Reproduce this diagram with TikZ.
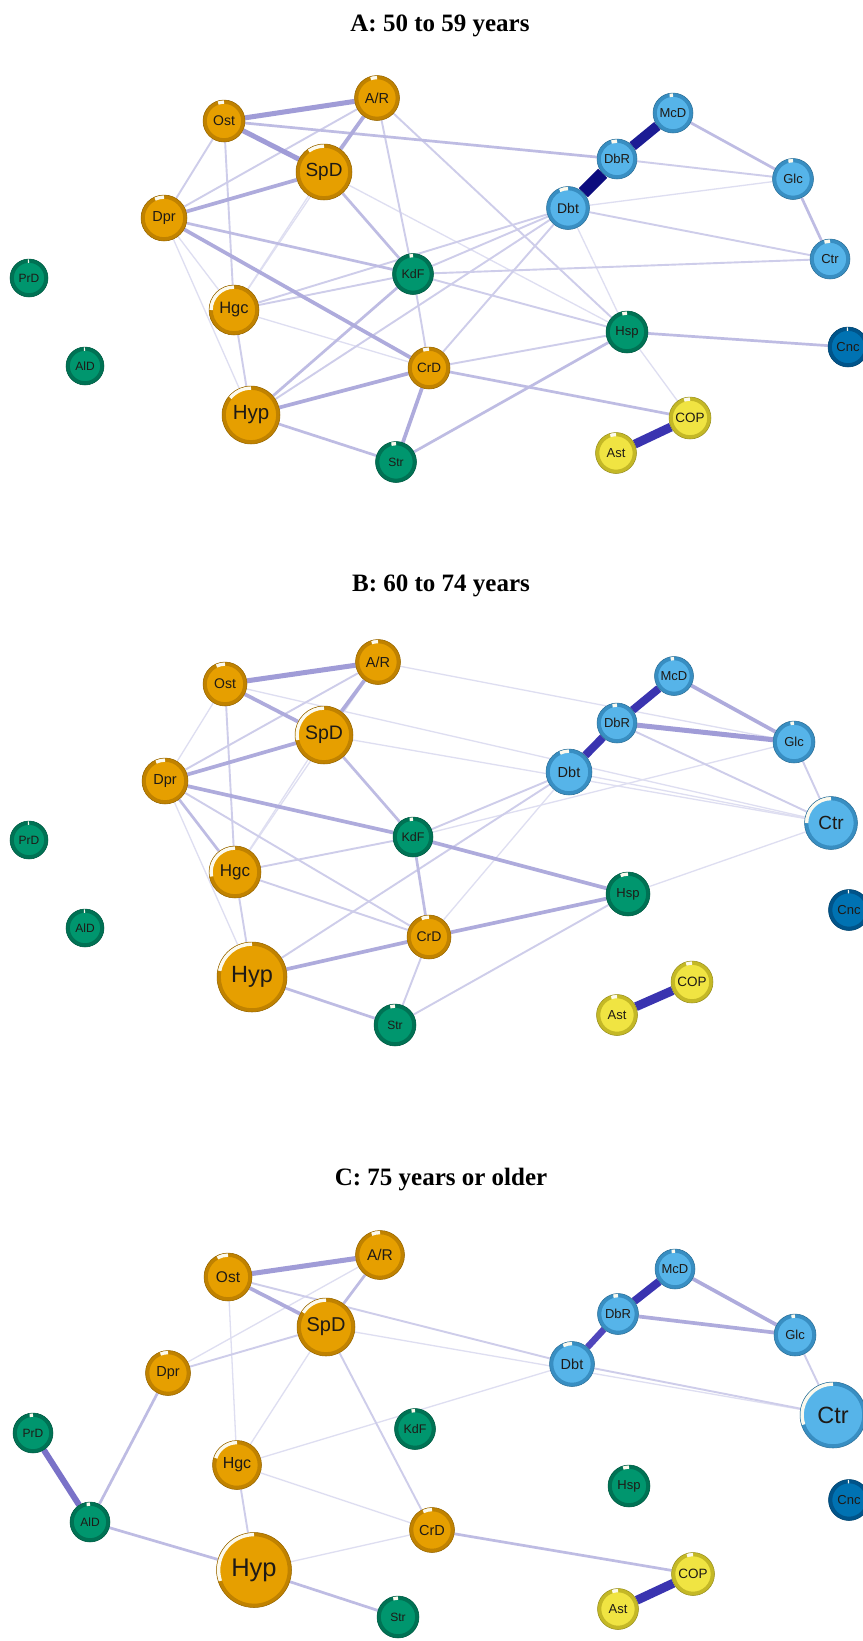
\documentclass[tikz,border=0pt]{standalone}
\usepackage{fontspec}
\setmainfont{Liberation Serif}
\setsansfont{Liberation Sans}
\pgfdeclarelayer{bg}
\pgfsetlayers{bg,main}
\definecolor{orfill}{RGB}{230,159,0}
\definecolor{orring}{RGB}{192,130,0}
\definecolor{grfill}{RGB}{0,150,110}
\definecolor{grring}{RGB}{0,114,84}
\definecolor{lbfill}{RGB}{86,180,233}
\definecolor{lbring}{RGB}{56,142,194}
\definecolor{yefill}{RGB}{240,228,66}
\definecolor{yering}{RGB}{196,184,38}
\definecolor{dbfill}{RGB}{0,114,178}
\definecolor{dbring}{RGB}{0,84,138}
\definecolor{pierest}{RGB}{252,250,238}
\definecolor{labtext}{RGB}{30,26,22}
\definecolor{c1}{RGB}{222,222,241}
\definecolor{c2}{RGB}{206,205,234}
\definecolor{c3}{RGB}{190,188,227}
\definecolor{c4}{RGB}{174,171,220}
\definecolor{c5}{RGB}{160,156,215}
\definecolor{c6}{RGB}{122,114,200}
\definecolor{navyA}{RGB}{12,12,126}
\definecolor{navyB}{RGB}{28,28,148}
\definecolor{navyC}{RGB}{58,52,176}
\definecolor{navyD}{RGB}{80,70,188}
\tikzset{
  nd/.style={circle, inner sep=0pt, text=labtext},
  e1/.style={line width=1.3pt, c1},
  e2/.style={line width=1.9pt, c2},
  e3/.style={line width=2.7pt, c3},
  e4/.style={line width=3.7pt, c4},
  e5/.style={line width=5pt, c5},
  e6/.style={line width=6pt, c6},
  eDbA/.style={line width=13pt, navyA},
  eMcA/.style={line width=10pt, navyB},
  eAst/.style={line width=9pt, navyC},
  eDbB/.style={line width=8pt, navyC},
  eDbC/.style={line width=6.5pt, navyD},
  eMcC/.style={line width=8pt, navyC},
  ttl/.style={font=\bfseries\fontsize{25}{25}\selectfont, anchor=base}
}
\newcommand\NN[8]{%
  \node[nd, minimum size={2*#4pt}, fill=#5fill, font=\sffamily\fontsize{#8}{#8}\selectfont] (#1) at (#2,#3) {#7};
  \pgfmathsetmacro\rr{#4-2.0}%
  \pgfmathsetmacro\ea{90-360*#6}%
  \draw[line width=3.6pt,#5ring] ([shift={(90:\rr pt)}]#1.center) arc[start angle=90,end angle=\ea,radius=\rr pt];
  \draw[line width=3.6pt,pierest] ([shift={(\ea:\rr pt)}]#1.center) arc[start angle=\ea,end angle=-270,radius=\rr pt];
  \draw[line width=0.5pt,#5ring!75!black] (#1.center) circle[radius=#4pt];
}
\newcommand\E[3]{\draw[#1] (#2) -- (#3);}
\begin{document}
\begin{tikzpicture}[x=1pt,y=-1pt]
\useasboundingbox (0,0) rectangle (862,1641);
\begin{pgfonlayer}{bg}
\fill[white] (0,0) rectangle (862,1641);
\end{pgfonlayer}

% ---------- titles
\node[ttl] (tA) at (440,31) {A: 50 to 59 years};
\node[ttl] (tB) at (441,591) {B: 60 to 74 years};
\node[ttl] (tC) at (441,1185) {C: 75 years or older};

% ---------- panel A
\NN{AAR}{377}{98}{22.5}{or}{0.95}{A/R}{14.5}
\NN{AOst}{224}{121}{21}{or}{0.95}{Ost}{14}
\NN{ASpD}{324}{172}{28}{or}{0.9}{SpD}{19}
\NN{AMcD}{673}{113}{20}{lb}{0.97}{McD}{13}
\NN{ADbR}{617}{159}{20}{lb}{0.95}{DbR}{13}
\NN{AGlc}{793}{179}{20.5}{lb}{0.96}{Glc}{13}
\NN{ADbt}{568}{208}{21.5}{lb}{0.93}{Dbt}{14}
\NN{ADpr}{164}{218}{23}{or}{0.93}{Dpr}{14.5}
\NN{ACtr}{830}{259}{20}{lb}{0.95}{Ctr}{13}
\NN{AKdF}{413}{274}{20.5}{gr}{0.97}{KdF}{12.5}
\NN{APrD}{29}{278}{19}{gr}{0.99}{PrD}{12}
\NN{AHgc}{234}{310}{25}{or}{0.75}{Hgc}{16.5}
\NN{AHsp}{627}{332}{21}{gr}{0.96}{Hsp}{13}
\NN{ACnc}{848}{347}{20}{db}{0.99}{Cnc}{13}
\NN{AAlD}{85}{366}{19}{gr}{0.99}{AlD}{12}
\NN{ACrD}{429}{368}{21}{or}{0.95}{CrD}{13.5}
\NN{AHyp}{251}{415}{29}{or}{0.86}{Hyp}{20.5}
\NN{ACOP}{690}{418}{21}{ye}{0.95}{COP}{13.5}
\NN{AAst}{616}{453}{20.5}{ye}{0.95}{Ast}{13}
\NN{AStr}{396}{462}{20.5}{gr}{0.96}{Str}{12}

% ---------- panel B
\begin{scope}[shift={(0,564)}]
\NN{BAR}{378}{98}{22.5}{or}{0.95}{A/R}{14.5}
\NN{BOst}{225}{120}{22}{or}{0.93}{Ost}{14}
\NN{BSpD}{324}{171}{29}{or}{0.72}{SpD}{19.5}
\NN{BMcD}{674}{112}{19.5}{lb}{0.97}{McD}{13}
\NN{BDbR}{617}{159}{20}{lb}{0.96}{DbR}{13}
\NN{BGlc}{794}{178}{21}{lb}{0.97}{Glc}{13}
\NN{BDbt}{569}{208}{23}{lb}{0.93}{Dbt}{14.5}
\NN{BDpr}{165}{217}{23}{or}{0.93}{Dpr}{14.5}
\NN{BCtr}{831}{259}{26.5}{lb}{0.75}{Ctr}{19}
\NN{BKdF}{413}{273}{20}{gr}{0.97}{KdF}{12.5}
\NN{BPrD}{29}{276}{19}{gr}{0.99}{PrD}{12}
\NN{BHgc}{235}{308}{26}{or}{0.72}{Hgc}{17}
\NN{BHsp}{628}{330}{22}{gr}{0.94}{Hsp}{13}
\NN{BCnc}{849}{346}{20.5}{db}{0.99}{Cnc}{13}
\NN{BAlD}{85}{364}{19}{gr}{0.99}{AlD}{12}
\NN{BCrD}{429}{373}{22}{or}{0.94}{CrD}{14}
\NN{BHyp}{252}{413}{35}{or}{0.78}{Hyp}{23.5}
\NN{BCOP}{692}{418}{21}{ye}{0.95}{COP}{13.5}
\NN{BAst}{617}{451}{20.5}{ye}{0.95}{Ast}{13}
\NN{BStr}{395}{461}{21}{gr}{0.96}{Str}{12}
\end{scope}

% ---------- panel C
\begin{scope}[shift={(0,1156)}]
\NN{CAR}{380}{99}{24.5}{or}{0.94}{A/R}{15.5}
\NN{COst}{228}{121}{24}{or}{0.92}{Ost}{15.5}
\NN{CSpD}{326}{171}{29}{or}{0.84}{SpD}{20}
\NN{CMcD}{675}{113}{20}{lb}{0.97}{McD}{13}
\NN{CDbR}{618}{158}{20.5}{lb}{0.96}{DbR}{13}
\NN{CGlc}{795}{179}{21}{lb}{0.97}{Glc}{13}
\NN{CDbt}{572}{208}{22.5}{lb}{0.93}{Dbt}{14.5}
\NN{CDpr}{168}{217}{22.5}{or}{0.94}{Dpr}{14.5}
\NN{CCtr}{833}{259}{33}{lb}{0.7}{Ctr}{23.5}
\NN{CKdF}{415}{273}{20.5}{gr}{0.97}{KdF}{12.5}
\NN{CPrD}{33}{277}{20}{gr}{0.97}{PrD}{12}
\NN{CHgc}{237}{309}{24.5}{or}{0.8}{Hgc}{16}
\NN{CHsp}{629}{330}{21}{gr}{0.95}{Hsp}{13}
\NN{CCnc}{849}{344}{20.5}{db}{0.99}{Cnc}{13}
\NN{CAlD}{90}{366}{20}{gr}{0.97}{AlD}{12}
\NN{CCrD}{432}{374}{22.5}{or}{0.93}{CrD}{14.5}
\NN{CHyp}{254}{414}{37.5}{or}{0.7}{Hyp}{25.5}
\NN{CCOP}{693}{418}{21.5}{ye}{0.95}{COP}{13.5}
\NN{CAst}{618}{453}{20.5}{ye}{0.95}{Ast}{13}
\NN{CStr}{398}{461}{21}{gr}{0.96}{Str}{12}
\end{scope}

\begin{pgfonlayer}{bg}
% ---- edges A
\E{e1}{AAR}{AHgc}
\E{e1}{ASpD}{AHgc}
\E{e1}{ASpD}{AHsp}
\E{e1}{ADpr}{AHgc}
\E{e1}{ADpr}{AHyp}
\E{e1}{AHgc}{ACrD}
\E{e1}{AHsp}{ACOP}
\E{e1}{ADbt}{AHsp}
\E{e1}{ADbt}{AGlc}
\E{e2}{AOst}{ADpr}
\E{e2}{AOst}{AHgc}
\E{e2}{AAR}{ADpr}
\E{e2}{AAR}{AKdF}
\E{e2}{AAR}{AHsp}
\E{e2}{AHgc}{AKdF}
\E{e2}{AHgc}{AHyp}
\E{e2}{AHgc}{ADbt}
\E{e2}{AHyp}{ADbt}
\E{e2}{AKdF}{ACrD}
\E{e2}{AKdF}{ADbt}
\E{e2}{AKdF}{ACtr}
\E{e2}{AKdF}{AHsp}
\E{e2}{ACrD}{ADbt}
\E{e2}{ACrD}{AHsp}
\E{e2}{ADbt}{ACtr}
\E{e2}{ADbR}{AGlc}
\E{e3}{AOst}{ADbR}
\E{e3}{ASpD}{AKdF}
\E{e3}{ADpr}{AKdF}
\E{e3}{AHyp}{AKdF}
\E{e3}{AHyp}{AStr}
\E{e3}{ACrD}{ACOP}
\E{e3}{AStr}{AHsp}
\E{e3}{AHsp}{ACnc}
\E{e3}{AMcD}{AGlc}
\E{e3}{AGlc}{ACtr}
\E{e4}{AAR}{ASpD}
\E{e4}{ASpD}{ADpr}
\E{e4}{ADpr}{ACrD}
\E{e4}{AHyp}{ACrD}
\E{e4}{ACrD}{AStr}
\E{e5}{AOst}{AAR}
\E{e5}{AOst}{ASpD}
\E{eDbA}{ADbt}{ADbR}
\E{eMcA}{ADbR}{AMcD}
\E{eAst}{AAst}{ACOP}
% ---- edges B
\E{e1}{BAR}{BGlc}
\E{e1}{BAR}{BHgc}
\E{e1}{BOst}{BDpr}
\E{e1}{BOst}{BCtr}
\E{e1}{BSpD}{BCtr}
\E{e1}{BSpD}{BHgc}
\E{e1}{BDpr}{BHyp}
\E{e1}{BKdF}{BGlc}
\E{e1}{BCrD}{BDbt}
\E{e1}{BHsp}{BCtr}
\E{e1}{BDbt}{BCtr}
\E{e2}{BAR}{BDpr}
\E{e2}{BOst}{BHgc}
\E{e2}{BDpr}{BCrD}
\E{e2}{BHgc}{BKdF}
\E{e2}{BHgc}{BCrD}
\E{e2}{BHgc}{BHyp}
\E{e2}{BHyp}{BDbt}
\E{e2}{BKdF}{BDbt}
\E{e2}{BCrD}{BStr}
\E{e2}{BStr}{BHsp}
\E{e2}{BDbR}{BCtr}
\E{e2}{BGlc}{BCtr}
\E{e3}{BSpD}{BKdF}
\E{e3}{BDpr}{BHgc}
\E{e3}{BHyp}{BStr}
\E{e3}{BKdF}{BCrD}
\E{e4}{BOst}{BSpD}
\E{e4}{BAR}{BSpD}
\E{e4}{BSpD}{BDpr}
\E{e4}{BDpr}{BKdF}
\E{e4}{BKdF}{BHsp}
\E{e4}{BHyp}{BCrD}
\E{e4}{BCrD}{BHsp}
\E{e4}{BMcD}{BGlc}
\E{e5}{BDbR}{BGlc}
\E{e5}{BOst}{BAR}
\E{eDbB}{BDbt}{BDbR}
\E{eDbB}{BDbR}{BMcD}
\E{eAst}{BAst}{BCOP}
% ---- edges C
\E{e1}{CAR}{CDpr}
\E{e1}{COst}{CHgc}
\E{e1}{CSpD}{CHgc}
\E{e1}{CSpD}{CCtr}
\E{e1}{CHgc}{CDbt}
\E{e1}{CHgc}{CCrD}
\E{e1}{CHyp}{CCrD}
\E{e2}{COst}{CDbt}
\E{e2}{CSpD}{CDpr}
\E{e2}{CSpD}{CCrD}
\E{e2}{CDbt}{CCtr}
\E{e2}{CHgc}{CHyp}
\E{e2}{CGlc}{CCtr}
\E{e3}{CAR}{CSpD}
\E{e3}{CDpr}{CAlD}
\E{e3}{CAlD}{CHyp}
\E{e3}{CHyp}{CStr}
\E{e3}{CCrD}{CCOP}
\E{e4}{COst}{CSpD}
\E{e4}{CMcD}{CGlc}
\E{e4}{CDbR}{CGlc}
\E{e5}{COst}{CAR}
\E{e6}{CPrD}{CAlD}
\E{eDbC}{CDbt}{CDbR}
\E{eMcC}{CDbR}{CMcD}
\E{eAst}{CAst}{CCOP}
\end{pgfonlayer}
\end{tikzpicture}
\end{document}
